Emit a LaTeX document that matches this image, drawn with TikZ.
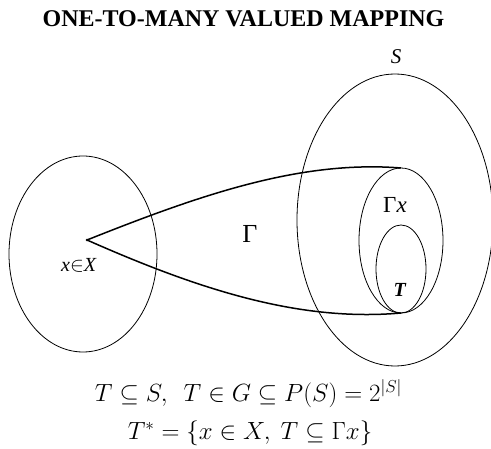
\documentclass[tikz,border=0pt]{standalone}
\usepackage{fontspec}
\setmainfont{Liberation Serif}
\usepackage{amsmath}
\usetikzlibrary{shapes.geometric, positioning}

\begin{document}
\begin{tikzpicture}[x=1pt, y=-1pt,
  set/.style={draw, ellipse, line width=0.8pt, inner sep=0pt, outer sep=0pt},
  map/.style={line width=1.5pt},
  lbl/.style={font=\fontsize{#1}{#1}\selectfont, inner sep=0pt},
  lbl/.default=22
]
\useasboundingbox (0,0) rectangle (491,449);

% Title
\node[lbl=24, font=\bfseries\fontsize{24}{28}\selectfont, anchor=base]
  (title) at (243.5,27) {ONE-TO-MANY VALUED MAPPING};

% Sets
\node[set, minimum width=148, minimum height=196] (X) at (83,254) {};
\node[set, minimum width=196, minimum height=292] (S) at (395,220) {};
\node[set, minimum width=84, minimum height=145] (Gx) at (401,240.5) {};
\node[set, minimum width=50, minimum height=88] (T) at (401,269) {};

% Point x
\node[circle, fill, inner sep=0.9pt] (pt) at (87,240) {};

% Mapping
\draw[map] (pt.center) .. controls (200,195) and (300,160) .. (Gx.north);
\draw[map] (pt.center) .. controls (200,290) and (300,322) .. (Gx.south);

% Labels
\node[lbl=21] (Slbl) at (396,57) {\textit{S}};
\node[lbl=20] (xlbl) at (79,265) {\textit{x}$\in$\textit{X}};
\node[lbl=26] (gam) at (250,234) {Γ};
\node[lbl=23] (Gxlbl) at (395,205) {Γ\textit{x}};
\node[lbl=20] (Tlbl) at (400,290) {\textbf{\textit{T}}};

% Formulas
\node[lbl=24, anchor=base] (eq1) at (248.5,402)
  {$T\subseteq S,\ \ T\in G\subseteq P(S)=2^{|S|}$};
\node[lbl=24, anchor=base] (eq2) at (250,440)
  {$T^*=\{x\in X,\ T\subseteq\Gamma x\}$};
\end{tikzpicture}
\end{document}
